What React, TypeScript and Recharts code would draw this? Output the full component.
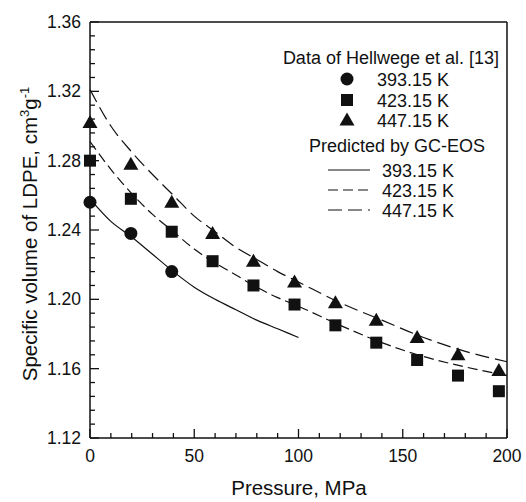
import React from 'react';
import { ComposedChart, Line, Scatter, XAxis, YAxis } from 'recharts';

// experimental pressures, MPa
const P_EXP = [0, 19.6, 39.2, 58.8, 78.4, 98.1, 117.7, 137.3, 156.9, 176.5, 196.1];
const V_393_EXP = [1.256, 1.238, 1.216];
const V_423_EXP = [1.280, 1.258, 1.239, 1.222, 1.208, 1.197, 1.185, 1.175, 1.165, 1.156, 1.147];
const V_447_EXP = [1.302, 1.278, 1.256, 1.238, 1.222, 1.210, 1.198, 1.188, 1.178, 1.168, 1.159];

// GC-EOS predictions
const P_CALC = [0, 10, 20, 30, 40, 50, 60, 70, 80, 90, 100, 120, 140, 160, 180, 200];
const V_393_CALC = [1.258, 1.245, 1.236, 1.226, 1.216, 1.207, 1.200, 1.194, 1.188, 1.183, 1.178];
const V_423_CALC = [1.291, 1.275, 1.261, 1.249, 1.239, 1.229, 1.221, 1.214, 1.207, 1.201, 1.196, 1.185, 1.175, 1.167, 1.161, 1.156];
const V_447_CALC = [1.321, 1.300, 1.285, 1.272, 1.260, 1.248, 1.239, 1.230, 1.223, 1.216, 1.210, 1.198, 1.188, 1.178, 1.170, 1.164];

const X_TICKS = [0, 10, 20, 30, 40, 50, 60, 70, 80, 90, 100, 110, 120, 130, 140, 150, 160, 170, 180, 190, 200];
const X_LABELS = [0, 50, 100, 150, 200];
const Y_TICKS: number[] = [];
for (let i = 0; i <= 30; i++) Y_TICKS.push(+(1.12 + i * 0.008).toFixed(3));
const Y_LABELS = [1.12, 1.16, 1.20, 1.24, 1.28, 1.32, 1.36];

const toPts = (ps: number[], vs: number[]) => vs.map((v, i) => ({ p: ps[i], v }));

const FONT = '"Liberation Sans", Arial, Helvetica, sans-serif';
const INK = '#111';

const XTick = (props: any) => {
  const { x, y, payload } = props;
  const major = X_LABELS.includes(payload.value);
  return (
    <g>
      <line x1={x} x2={x} y1={y} y2={y - (major ? 9 : 5)} stroke={INK} strokeWidth={1.3} />
      {major && (
        <text x={x} y={y + 24} textAnchor="middle" fontSize={17.5} fontFamily={FONT} fill={INK}>
          {payload.value}
        </text>
      )}
    </g>
  );
};

const YTick = (props: any) => {
  const { x, y, payload } = props;
  const major = Y_LABELS.some(l => Math.abs(l - payload.value) < 1e-6);
  return (
    <g>
      <line x1={x} x2={x + (major ? 9 : 5)} y1={y} y2={y} stroke={INK} strokeWidth={1.3} />
      {major && (
        <text x={x - 9} y={y + 6} textAnchor="end" fontSize={17.5} fontFamily={FONT} fill={INK}>
          {payload.value.toFixed(2)}
        </text>
      )}
    </g>
  );
};

const Circle = ({ cx, cy }: any) => <circle cx={cx} cy={cy} r={6.5} fill={INK} />;
const Square = ({ cx, cy }: any) => <rect x={cx - 6} y={cy - 6} width={12} height={12} fill={INK} />;
const Triangle = ({ cx, cy }: any) => (
  <path d={`M${cx},${cy - 7.5} L${cx + 7.5},${cy + 5.5} L${cx - 7.5},${cy + 5.5} Z`} fill={INK} />
);

const legendText = { fontSize: 18, fontFamily: FONT, fill: INK };
const titleText = { fontSize: 20.5, fontFamily: FONT, fill: INK };

export default function App() {
  return (
    <div style={{ position: 'absolute', left: 0, top: 0, width: 526, height: 502, background: '#fff' }}>
      <ComposedChart width={526} height={502} margin={{ top: 21, right: 18, bottom: 63, left: 89 }}>
        <XAxis
          dataKey="p" type="number" domain={[0, 200]} ticks={X_TICKS} interval={0}
          height={1} tickSize={0} tickMargin={0} tick={<XTick />}
          axisLine={{ stroke: INK, strokeWidth: 1.5 }}
        />
        <XAxis
          xAxisId="top" orientation="top" dataKey="p" type="number" domain={[0, 200]}
          height={1} tick={false} tickLine={false} axisLine={{ stroke: INK, strokeWidth: 1.5 }}
        />
        <YAxis
          dataKey="v" type="number" domain={[1.12, 1.36]} ticks={Y_TICKS} interval={0}
          width={1} tickSize={0} tickMargin={0} tick={<YTick />}
          axisLine={{ stroke: INK, strokeWidth: 1.5 }} allowDataOverflow
        />
        <YAxis
          yAxisId="right" orientation="right" dataKey="v" type="number" domain={[1.12, 1.36]}
          width={1} tick={false} tickLine={false} axisLine={{ stroke: INK, strokeWidth: 1.5 }}
        />

        <Line data={toPts(P_CALC, V_393_CALC)} dataKey="v" type="monotone" stroke={INK} strokeWidth={1.2} dot={false} isAnimationActive={false} />
        <Line data={toPts(P_CALC, V_423_CALC)} dataKey="v" type="monotone" stroke={INK} strokeWidth={1.2} strokeDasharray="10 5" dot={false} isAnimationActive={false} />
        <Line data={toPts(P_CALC, V_447_CALC)} dataKey="v" type="monotone" stroke={INK} strokeWidth={1.2} strokeDasharray="14 6" dot={false} isAnimationActive={false} />

        <Scatter data={toPts(P_EXP, V_393_EXP)} dataKey="v" shape={<Circle />} isAnimationActive={false} />
        <Scatter data={toPts(P_EXP, V_423_EXP)} dataKey="v" shape={<Square />} isAnimationActive={false} />
        <Scatter data={toPts(P_EXP, V_447_EXP)} dataKey="v" shape={<Triangle />} isAnimationActive={false} />
      </ComposedChart>

      <svg width={526} height={502} style={{ position: 'absolute', left: 0, top: 0, pointerEvents: 'none' }}>
        {/* axis titles */}
        <text x={299} y={495} textAnchor="middle" {...titleText}>Pressure, MPa</text>
        <text transform="translate(37,234) rotate(-90)" textAnchor="middle" {...titleText}>
          Specific volume of LDPE, cm<tspan fontSize={13} dy={-8}>3</tspan><tspan dy={8}>g</tspan><tspan fontSize={13} dy={-8}>-1</tspan>
        </text>

        {/* legend */}
        <text x={499} y={64} textAnchor="end" {...legendText}>Data of Hellwege et al. [13]</text>
        <circle cx={347} cy={79} r={6.5} fill={INK} />
        <text x={377} y={85.5} {...legendText}>393.15 K</text>
        <rect x={341} y={94} width={12} height={12} fill={INK} />
        <text x={377} y={106.5} {...legendText}>423.15 K</text>
        <path d="M347,112.5 L354.5,125.5 L339.5,125.5 Z" fill={INK} />
        <text x={377} y={126.5} {...legendText}>447.15 K</text>
        <text x={397} y={152} textAnchor="middle" {...legendText}>Predicted by GC-EOS</text>
        <line x1={328} x2={370} y1={170} y2={170} stroke={INK} strokeWidth={1.2} />
        <text x={382} y={176.5} {...legendText}>393.15 K</text>
        <line x1={328} x2={370} y1={190} y2={190} stroke={INK} strokeWidth={1.2} strokeDasharray="10 5" />
        <text x={382} y={196.5} {...legendText}>423.15 K</text>
        <line x1={328} x2={370} y1={210} y2={210} stroke={INK} strokeWidth={1.2} strokeDasharray="14 6" />
        <text x={382} y={216.5} {...legendText}>447.15 K</text>
      </svg>
    </div>
  );
}
